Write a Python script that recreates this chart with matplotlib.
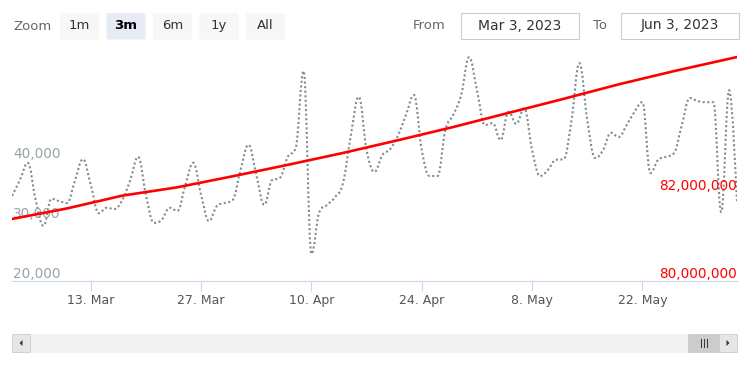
import numpy as np
import pandas as pd
import matplotlib
matplotlib.use('Agg')
import matplotlib.pyplot as plt
import matplotlib.dates as mdates
from matplotlib.path import Path
from matplotlib.patches import PathPatch, Rectangle, FancyBboxPatch, Polygon
from matplotlib.lines import Line2D

# ---------------- data ----------------
start_date = '2023-03-03'
end_date = '2023-06-03'
dates = pd.date_range(start_date, end_date, freq='D')

visits = [34200, 36800, 39700, 33500, 29200, 33700, 33300, 33000, 36800, 40300,
          36000, 31300, 32200, 32000, 33500, 36800, 40700, 34300, 29700, 30200,
          32200, 31700, 36000, 39700, 34300, 30000, 32500, 33000, 33500, 38500,
          42700, 37700, 32700, 36800, 37200, 40700, 42200, 55000, 24500, 31500,
          32700, 34000, 36300, 44300, 50700, 41800, 38200, 41000, 42000, 44300,
          47700, 51000, 41800, 37500, 37500, 45200, 47700, 51000, 57300, 51800,
          46000, 46300, 43500, 48200, 46200, 48800, 41800, 37500, 38500, 40200,
          40300, 46800, 56300, 46800, 40500, 41800, 44700, 44000, 46000, 48200,
          49800, 38000, 40200, 40700, 41300, 46000, 50500, 50000, 49800, 49800,
          31500, 51800, 33000]

total_dates = pd.to_datetime(['2023-03-03', '2023-03-10', '2023-03-17', '2023-03-24',
                              '2023-03-31', '2023-04-07', '2023-04-14', '2023-04-21',
                              '2023-04-28', '2023-05-05', '2023-05-12', '2023-05-19',
                              '2023-05-26', '2023-06-02', '2023-06-03'])
total_values = [81410000, 81650000, 81940000, 82130000, 82380000, 82640000, 82910000,
                83200000, 83500000, 83820000, 84140000, 84470000, 84770000, 85050000,
                85090000]

tick_dates = pd.to_datetime(['2023-03-13', '2023-03-27', '2023-04-10',
                             '2023-04-24', '2023-05-08', '2023-05-22'])
left_ticks = [20000, 30000, 40000]
right_ticks = [80000000, 82000000]
zoom_buttons = ['1m', '3m', '6m', '1y', 'All']
selected_button = '3m'
from_text = 'Mar 3, 2023'
to_text = 'Jun 3, 2023'

# ---------------- helpers ----------------
W, H = 750, 375


def fx(x):
    return x / W


def fy(y):
    return 1 - y / H


def hc_spline_path(x, y, smoothing=1.5):
    n = len(x)
    left = [None] * n
    right = [None] * n
    for i in range(1, n - 1):
        lx, ly = x[i - 1], y[i - 1]
        nx, ny = x[i + 1], y[i + 1]
        px_, py_ = x[i], y[i]
        d = smoothing + 1
        lcx = (smoothing * px_ + lx) / d
        lcy = (smoothing * py_ + ly) / d
        rcx = (smoothing * px_ + nx) / d
        rcy = (smoothing * py_ + ny) / d
        corr = ((rcy - lcy) * (rcx - px_)) / (rcx - lcx) + py_ - rcy
        lcy += corr
        rcy += corr
        if lcy > ly and lcy > py_:
            lcy = max(ly, py_)
            rcy = 2 * py_ - lcy
        elif lcy < ly and lcy < py_:
            lcy = min(ly, py_)
            rcy = 2 * py_ - lcy
        if rcy > ny and rcy > py_:
            rcy = max(ny, py_)
            lcy = 2 * py_ - rcy
        elif rcy < ny and rcy < py_:
            rcy = min(ny, py_)
            lcy = 2 * py_ - rcy
        left[i] = (lcx, lcy)
        right[i] = (rcx, rcy)
    right[0] = (x[0], y[0])
    left[n - 1] = (x[n - 1], y[n - 1])
    verts = [(x[0], y[0])]
    codes = [Path.MOVETO]
    for i in range(1, n):
        verts += [right[i - 1], left[i], (x[i], y[i])]
        codes += [Path.CURVE4] * 3
    return Path(verts, codes)


# ---------------- figure ----------------
fig = plt.figure(figsize=(7.5, 3.75), dpi=100)
fig.patch.set_facecolor('white')

plot_left, plot_right, plot_top, plot_bottom = 12, 737, 50, 281
ax = fig.add_axes([fx(plot_left), fy(plot_bottom), (plot_right - plot_left) / W,
                   (plot_bottom - plot_top) / H])
ax2 = ax.twinx()

xnum = mdates.date2num(dates)
x0 = mdates.date2num(pd.Timestamp(start_date))
x1 = mdates.date2num(pd.Timestamp(end_date))

gray_color = '#7f8c8d'
path = hc_spline_path(list(xnum), [float(v) for v in visits])
patch = PathPatch(path, fill=False, edgecolor=gray_color, linewidth=1.5,
                  linestyle=(0, (1, 1.2)), capstyle='butt')
ax.add_patch(patch)

ax2.plot(mdates.date2num(total_dates), total_values, color='#ff0000', linewidth=1.9,
         solid_capstyle='round')

ax.set_xlim(x0, x1)
ax.set_ylim(20000, 20000 + (plot_bottom - plot_top) / 60 * 10000)
ax2.set_ylim(80000000, 80000000 + (plot_bottom - plot_top) / 44 * 1000000)

for a in (ax, ax2):
    for s in a.spines.values():
        s.set_visible(False)
    a.set_yticks([])
    a.patch.set_alpha(0)
ax.spines['bottom'].set_visible(True)
ax.spines['bottom'].set_color('#ccd6eb')
ax.spines['bottom'].set_linewidth(0.8)

ax.set_xticks(mdates.date2num(tick_dates))
ax.set_xticklabels([f"{d.day}. {d.strftime('%b')}" for d in tick_dates])
ax.tick_params(axis='x', length=7.2, width=0.75, color='#ccd6eb', pad=2,
               labelsize=9, labelcolor='#555555')

for v in left_ticks:
    ax.annotate(f"{v:,}", xy=(0, v), xycoords=('axes fraction', 'data'),
                xytext=(1, 2.2), textcoords='offset points', ha='left', va='baseline',
                fontsize=9.8, color='#95a5a6')
for v in right_ticks:
    ax2.annotate(f"{v:,}", xy=(1, v), xycoords=('axes fraction', 'data'),
                 xytext=(0, 2.2), textcoords='offset points', ha='right', va='baseline',
                 fontsize=9.8, color='#ff0000')

# ---------------- range selector ----------------
fig.text(fx(13), fy(26), 'Zoom', ha='left', va='center', fontsize=9.5, color='#666666')
btn_x = [60, 106.5, 153, 199.5, 246]
for label, bx in zip(zoom_buttons, btn_x):
    sel = label == selected_button
    fig.add_artist(FancyBboxPatch((fx(bx), fy(39.5)), 39 / W, 26.5 / H,
                                  boxstyle='round,pad=0,rounding_size=0.003',
                                  transform=fig.transFigure,
                                  facecolor='#e6ebf5' if sel else '#f7f7f7',
                                  edgecolor='none'))
    fig.text(fx(bx + 19.5), fy(25.5), label, ha='center', va='center', fontsize=9.5,
             color='#000000' if sel else '#333333',
             fontweight='bold' if sel else 'normal')

fig.text(fx(413), fy(25.5), 'From', ha='left', va='center', fontsize=9.5, color='#666666')
fig.text(fx(593), fy(25.5), 'To', ha='left', va='center', fontsize=9.5, color='#666666')
for bx, txt in [(460.5, from_text), (620.5, to_text)]:
    fig.add_artist(Rectangle((fx(bx), fy(39)), 118 / W, 26 / H, transform=fig.transFigure,
                             facecolor='white', edgecolor='#cccccc', linewidth=0.8))
    fig.text(fx(bx + 59), fy(25.5), txt, ha='center', va='center', fontsize=10,
             color='#333333')

# ---------------- scrollbar ----------------
sb_top, sb_bot = 334, 352
fig.add_artist(Rectangle((fx(12), fy(sb_bot)), 725 / W, (sb_bot - sb_top) / H,
                         transform=fig.transFigure, facecolor='#f2f2f2',
                         edgecolor='#f2f2f2', linewidth=0.5))
fig.add_artist(Rectangle((fx(12), fy(sb_bot)), 18 / W, (sb_bot - sb_top) / H,
                         transform=fig.transFigure, facecolor='#e6e6e6',
                         edgecolor='#cccccc', linewidth=0.6))
fig.add_artist(Rectangle((fx(719), fy(sb_bot)), 18 / W, (sb_bot - sb_top) / H,
                         transform=fig.transFigure, facecolor='#e6e6e6',
                         edgecolor='#cccccc', linewidth=0.6))
fig.add_artist(Rectangle((fx(688), fy(sb_bot)), 31 / W, (sb_bot - sb_top) / H,
                         transform=fig.transFigure, facecolor='#cccccc',
                         edgecolor='#cccccc', linewidth=0.6))
cy = (sb_top + sb_bot) / 2
fig.add_artist(Polygon([(fx(19.5), fy(cy)), (fx(22.5), fy(cy - 3)), (fx(22.5), fy(cy + 3))],
                       closed=True, transform=fig.transFigure, facecolor='#333333',
                       edgecolor='none'))
fig.add_artist(Polygon([(fx(729.5), fy(cy)), (fx(726.5), fy(cy - 3)), (fx(726.5), fy(cy + 3))],
                       closed=True, transform=fig.transFigure, facecolor='#333333',
                       edgecolor='none'))
for lx in (700.5, 703.5, 706.5):
    fig.add_artist(Line2D([fx(lx), fx(lx)], [fy(cy - 4), fy(cy + 4)],
                          transform=fig.transFigure, color='#333333', linewidth=0.7))

fig.savefig('out.png', dpi=100, facecolor='white')
